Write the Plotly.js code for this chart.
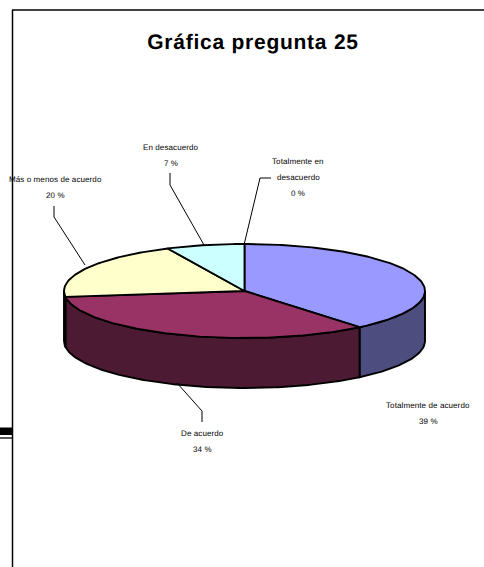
<!DOCTYPE html>
<html>
<head>
<meta charset="utf-8">
<script src="https://cdn.plot.ly/plotly-3.0.1.min.js"></script>
<style>
html,body{margin:0;padding:0;background:#fff;overflow:hidden}
#chart{width:484px;height:567px}
.annotation-text{letter-spacing:.1px;text-rendering:geometricPrecision}
.gtitle{letter-spacing:.75px;text-rendering:geometricPrecision}
</style>
</head>
<body>
<div id="chart"></div>
<script>
// Data, clockwise from 12 o'clock
const categories = ["Totalmente de acuerdo", "De acuerdo", "Más o menos de acuerdo", "En desacuerdo", "Totalmente en desacuerdo"];
const values = [39, 34, 20, 7, 0];
const labelLines = [["Totalmente de acuerdo"], ["De acuerdo"], ["Más o menos de acuerdo"], ["En desacuerdo"], ["Totalmente en", "desacuerdo"]];

// Styles and layout
const topColors = ["#9999FF", "#993366", "#FFFFCC", "#CCFFFF", "#FFFFFF"];
const sideColors = ["#4D4D80", "#4D1A33", "#808066", "#668080", "#808080"];
const cx = 244.5, cy = 291, rx = 180.5, ry = 47, depth = 50;
const labelX = [428, 202, 55, 171, 298];
const labelY = [405, 433, 179, 147, 161];
const lineStep = 16;
const leaders = [
  null,
  {x: [202, 202, 177], y: [422, 411, 383]},
  {x: [54, 54, 85], y: [206, 217, 265]},
  {x: [170, 170, 204], y: [173, 185, 245]},
  {x: [271, 260, 244], y: [178, 178, 245]}
];

const total = values.reduce((a, b) => a + b, 0);
const ptX = t => cx + rx * Math.sin(t);
const ptY = t => cy - ry * Math.cos(t);
function arc(a, b) {
  const n = Math.max(2, Math.ceil((b - a) / (Math.PI / 180)));
  const ts = [];
  for (let i = 0; i <= n; i++) ts.push(a + (b - a) * i / n);
  return ts;
}

const sideTraces = [], topTraces = [], leaderTraces = [], annotations = [];
let cum = 0;
values.forEach((v, i) => {
  const a = cum / total * 2 * Math.PI;
  cum += v;
  const b = cum / total * 2 * Math.PI;
  if (v > 0) {
    const ts = arc(a, b);
    topTraces.push({
      type: "scatter", mode: "lines", fill: "toself", fillcolor: topColors[i],
      line: {color: "#000", width: 1.9}, hoverinfo: "skip", name: categories[i],
      x: [cx].concat(ts.map(ptX), [cx]),
      y: [cy].concat(ts.map(ptY), [cy])
    });
    const s = Math.max(a, Math.PI / 2), e = Math.min(b, 3 * Math.PI / 2);
    if (e > s) {
      const sts = arc(s, e);
      sideTraces.push({
        type: "scatter", mode: "lines", fill: "toself", fillcolor: sideColors[i],
        line: {color: "#000", width: 1.9}, hoverinfo: "skip", name: categories[i] + " lateral",
        x: sts.map(ptX).concat(sts.slice().reverse().map(ptX), [ptX(s)]),
        y: sts.map(t => ptY(t)).concat(sts.slice().reverse().map(t => ptY(t) + depth), [ptY(s)])
      });
    }
  }
  if (leaders[i]) {
    leaderTraces.push({
      type: "scatter", mode: "lines", line: {color: "#000", width: 1},
      hoverinfo: "skip", x: leaders[i].x, y: leaders[i].y
    });
  }
  labelLines[i].concat([v + " %"]).forEach((text, k) => {
    annotations.push({
      x: labelX[i], y: labelY[i] + k * lineStep, xref: "x", yref: "y",
      text: text, showarrow: false, xanchor: "center", yanchor: "middle",
      font: {family: "Liberation Sans, Arial, sans-serif", size: 8, color: "#000"}
    });
  });
});

const layout = {
  width: 484, height: 567,
  margin: {l: 0, r: 0, t: 0, b: 0},
  paper_bgcolor: "#fff", plot_bgcolor: "#fff",
  showlegend: false,
  title: {
    text: "<b>Gráfica pregunta 25</b>",
    x: 253 / 484, xref: "paper", xanchor: "center",
    y: 1 - 42 / 567, yref: "container", yanchor: "middle",
    font: {family: "Liberation Sans, Arial, sans-serif", size: 21, color: "#000"}
  },
  xaxis: {range: [0, 484], visible: false, fixedrange: true},
  yaxis: {range: [567, 0], visible: false, fixedrange: true},
  annotations: annotations,
  shapes: [
    {type: "line", xref: "x", yref: "y", x0: 12.5, x1: 12.5, y0: 10, y1: 567, line: {color: "#000", width: 1.5}},
    {type: "line", xref: "x", yref: "y", x0: 12, x1: 484, y0: 10, y1: 10, line: {color: "#000", width: 1.5}},
    {type: "rect", xref: "x", yref: "y", x0: 0, x1: 12, y0: 427.5, y1: 435, fillcolor: "#000", line: {width: 0}},
    {type: "line", xref: "x", yref: "y", x0: 0, x1: 12, y0: 438, y1: 438, line: {color: "#222", width: 1.5}}
  ]
};

Plotly.newPlot("chart", sideTraces.concat(topTraces, leaderTraces), layout, {displayModeBar: false, staticPlot: true});
</script>
</body>
</html>
